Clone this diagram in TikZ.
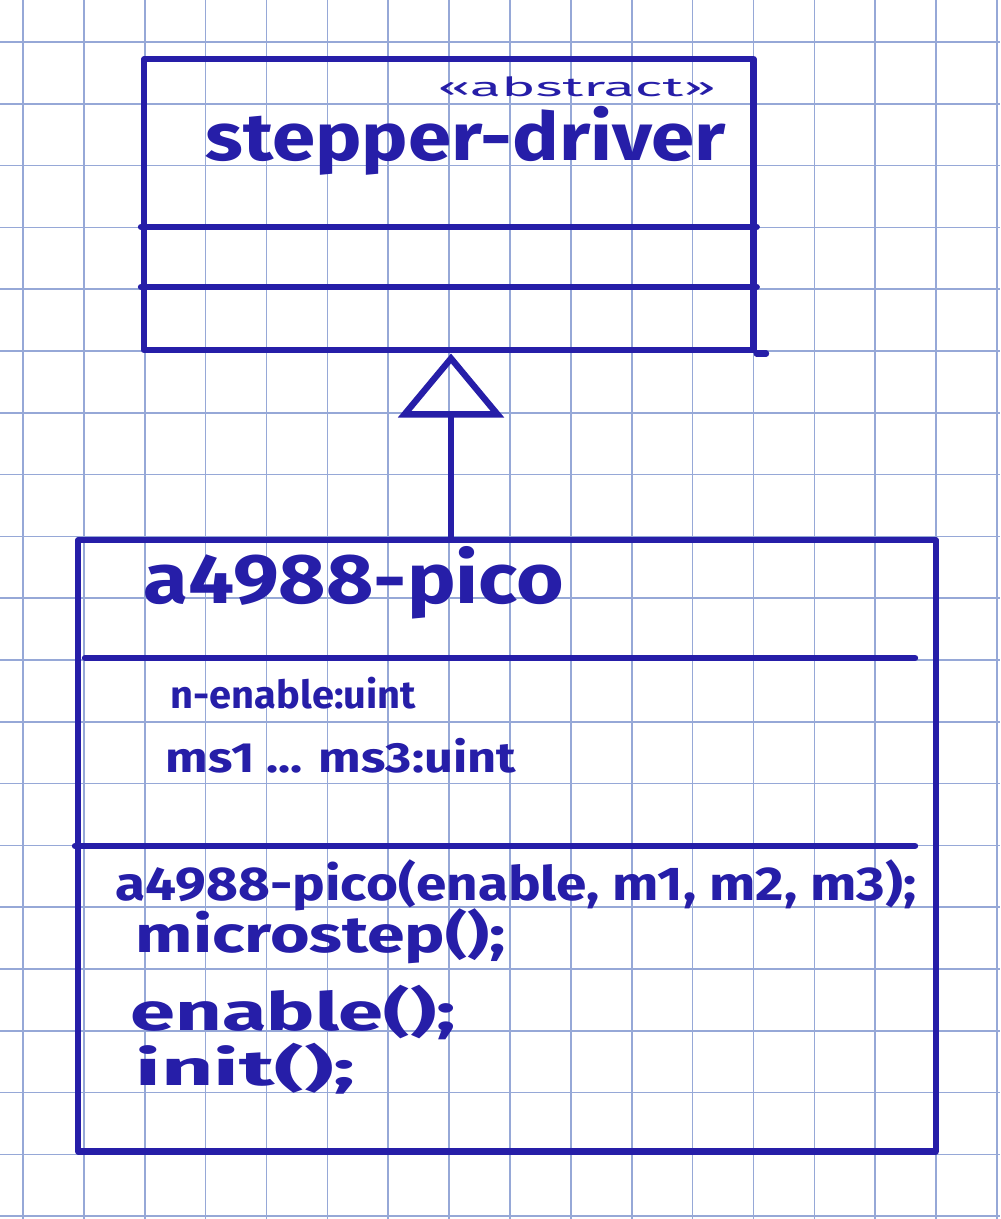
\documentclass[tikz,border=0pt]{standalone}
\usepackage{fontspec}
\setmainfont{Fira Sans}
\usepackage{graphicx}
\usetikzlibrary{arrows.meta}
\definecolor{ink}{RGB}{38,30,168}
\definecolor{gridc}{RGB}{150,168,215}
\newcommand{\hwtext}[3]{\resizebox{#2}{\height}{\fontsize{#1}{#1}\selectfont\bfseries #3}}
\newcommand{\hwthin}[3]{\resizebox{#2}{\height}{\fontsize{#1}{#1}\selectfont #3}}
\begin{document}
\begin{tikzpicture}[x=0.01cm,y=-0.01cm,
  pen/.style={draw=ink, line width=1.8pt, line cap=round, line join=round},
  umlbox/.style={pen, rectangle, inner sep=0pt, anchor=north west},
  lbl/.style={text=ink, inner sep=0pt, anchor=base west},
  gen/.style={pen, -{Triangle[open, length=0.64cm, width=1.05cm, line width=1.8pt]}},
  paper/.style={gridc, line width=0.45pt}]
\fill[white] (0,0) rectangle (1000,1219);
\useasboundingbox (0,0) rectangle (1000,1219);
% squared paper
\foreach \k in {0,...,16} \draw[paper] ({23+60.875*\k},0) -- ({23+60.875*\k},1219);
\foreach \k in {0,...,19} \draw[paper] (0,{42+61.8*\k}) -- (1000,{42+61.8*\k});
% abstract class
\node[umlbox, minimum width=6.09cm, minimum height=2.91cm] (sd) at (141,56) {};
\coordinate (sdA) at (0,227);
\coordinate (sdB) at (0,287);
\draw[pen] (sd.west |- sdA) -- (sd.east |- sdA);
\draw[pen] (sd.west |- sdB) -- (sd.east |- sdB);
\coordinate (sdX) at (766,0);
\draw[pen] (sd.south east) -- (sdX |- sd.south);
\node[lbl] (abs) at (437,97) {\hwthin{7.5pt}{2.78cm}{«abstract»}};
\node[lbl] (sdname) at (205,161) {\hwtext{19pt}{5.2cm}{stepper-driver}};
% concrete class
\node[umlbox, minimum width=8.57cm, minimum height=6.11cm] (pico) at (75,537) {};
\coordinate (pA1) at (85,658);
\coordinate (pA2) at (915,658);
\coordinate (pB2) at (915,846);
\draw[pen] (pA1) -- (pA2);
\draw[pen] (pico.west |- pB2) -- (pB2);
\node[lbl] (piconame) at (143,603) {\hwtext{20pt}{4.2cm}{a4988-pico}};
\node[lbl] (att1) at (170,708) {\hwtext{11pt}{2.45cm}{n-enable:uint}};
\node[lbl] (att2) at (165,772) {\hwtext{12pt}{3.5cm}{ms1 ... ms3:uint}};
\node[lbl] (op1) at (115,900) {\hwtext{13.5pt}{8.0cm}{a4988-pico(enable, m1, m2, m3);}};
\node[lbl] (op2) at (135,952) {\hwtext{14.5pt}{3.7cm}{microstep();}};
\node[lbl] (op3) at (130,1030) {\hwtext{15pt}{3.25cm}{enable();}};
\node[lbl] (op4) at (135,1085) {\hwtext{14pt}{2.2cm}{init();}};
% generalization
\coordinate (ax) at (451,0);
\draw[gen] (ax |- pico.north) -- (ax |- sd.south);
\end{tikzpicture}
\end{document}
